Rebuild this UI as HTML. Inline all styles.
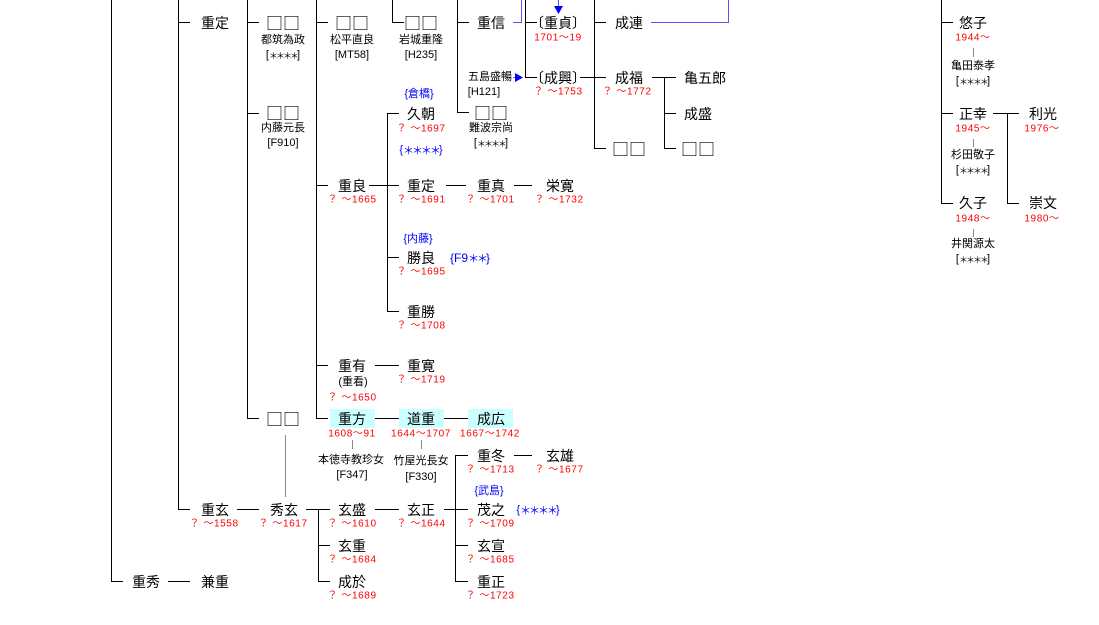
<!DOCTYPE html>
<html><head><meta charset="utf-8"><style>
html,body{margin:0;padding:0;background:#fff;width:1099px;height:625px;overflow:hidden}
svg{display:block}
text{font-family:"Liberation Sans","Noto Sans CJK JP",sans-serif;text-anchor:middle;dominant-baseline:central}
.n{font-size:14px;fill:#000}
.d{font-size:10px;fill:#f00;letter-spacing:0.6px}
.s{font-size:11px;fill:#000}
.b{font-size:11px;fill:#00f}
.q{font-family:"Noto Sans CJK JP",sans-serif;font-size:17px;fill:#000}
.a{font-family:"Noto Sans CJK JP",sans-serif;font-size:9px;letter-spacing:-2px}
</style></head><body>
<svg width="1099" height="625" viewBox="0 0 1099 625">
<rect x="330" y="409" width="45" height="19" fill="#ccffff"/>
<rect x="399" y="409" width="45" height="19" fill="#ccffff"/>
<rect x="468" y="409" width="45" height="19" fill="#ccffff"/>
<g stroke="#000" stroke-width="1" fill="none">
<path d="M111.5 0V581.5H123M178.5 0V509.5H190M247.5 0V418.5H259M316.5 0V418.5H328M387.5 113V311.5H399M392.5 0V22.5H404M457.5 0V112.5H469M525.5 0V77.5H537M594.5 0V148.5H606M664.5 77V148.5H676M941.5 0V203.5H953M1007.5 113V203.5H1019M318.5 509V581.5H330M455.5 455V581.5H468"/>
<path d="M178 22.5H190M247 22.5H259M316 22.5H328M457 22.5H469M525 22.5H537M594 22.5H606M941 22.5H953"/>
<path d="M247 113.5H259M387 113.5H399M664 113.5H676M941 113.5H953M993 113.5H1019"/>
<path d="M580 77.5H606M652 77.5H676"/>
<path d="M316 185.5H328M369 185.5H399M446 185.5H466M514 185.5H532"/>
<path d="M387 257.5H399M316 365.5H328M375 365.5H399"/>
<path d="M316 418.5H328M375 418.5H399M444 418.5H468"/>
<path d="M237 509.5H259M306 509.5H330M375 509.5H399M444 509.5H468M318 545.5H330M455 545.5H468M168 581.5H190M455 455.5H468M514 455.5H532"/>
</g>
<g stroke="#888" stroke-width="1">
<path d="M973.5 48V57M973.5 139V147M973.5 229V237M352.5 440V449M421.5 440V449M285.5 435V497"/>
</g>
<g stroke="#55f" stroke-width="1" fill="none">
<path d="M513 22.5H521.5V0M651 22.5H728.5V0M558.5 0V8M513 77.5H516"/>
</g>
<polygon points="554,6 563,6 558.5,14" fill="#00f"/>
<polygon points="515,73 515,82 523,77.5" fill="#00f"/>

<text class="n" x="215" y="23">重定</text>
<text class="q" x="283" y="22">□□</text><text class="s" x="283" y="40">都筑為政</text><text class="s" x="283" y="55">[<tspan class="a">＊＊＊＊</tspan>]</text>
<text class="q" x="352" y="22">□□</text><text class="s" x="352" y="40">松平直良</text><text class="s" x="352" y="55">[MT58]</text>
<text class="q" x="421" y="22">□□</text><text class="s" x="421" y="40">岩城重隆</text><text class="s" x="421" y="55">[H235]</text>
<text class="n" x="491" y="23">重信</text>
<text class="n" x="558" y="23">〔重貞〕</text><text class="d" x="558" y="38">1701～19</text>
<text class="n" x="629" y="23">成連</text>
<text class="s" x="490" y="77">五島盛暢</text><text class="s" x="484" y="92">[H121]</text>
<text class="n" x="558" y="78">〔成興〕</text><text class="d" x="558" y="92">？ ～1753</text>
<text class="n" x="629" y="78">成福</text><text class="d" x="627" y="92">？ ～1772</text>
<text class="n" x="705" y="78">亀五郎</text>
<text class="n" x="698" y="114">成盛</text>
<text class="q" x="629" y="148">□□</text><text class="q" x="698" y="148">□□</text>
<text class="q" x="283" y="112">□□</text><text class="s" x="283" y="128">内藤元長</text><text class="s" x="283" y="143">[F910]</text>
<text class="q" x="491" y="112">□□</text><text class="s" x="491" y="128">難波宗尚</text><text class="s" x="491" y="143">[<tspan class="a">＊＊＊＊</tspan>]</text>
<text class="b" x="419" y="94">{倉橋}</text>
<text class="n" x="421" y="114">久朝</text><text class="d" x="421" y="129">？ ～1697</text>
<text class="b" x="421" y="150">{<tspan class="a" style="font-size:11px">＊＊＊＊</tspan>}</text>
<text class="n" x="352" y="186">重良</text><text class="d" x="352" y="200">？ ～1665</text>
<text class="n" x="421" y="186">重定</text><text class="d" x="421" y="200">？ ～1691</text>
<text class="n" x="491" y="186">重真</text><text class="d" x="490" y="200">？ ～1701</text>
<text class="n" x="560" y="186">栄寛</text><text class="d" x="559" y="200">？ ～1732</text>
<text class="b" x="418" y="239">{内藤}</text>
<text class="n" x="421" y="258">勝良</text><text class="b" x="470" y="258" style="font-size:12px">{F9<tspan class="a" style="font-size:11px">＊＊</tspan>}</text><text class="d" x="421" y="272">？ ～1695</text>
<text class="n" x="421" y="312">重勝</text><text class="d" x="421" y="326">？ ～1708</text>
<text class="n" x="352" y="366">重有</text><text class="s" x="353" y="382">(重看)</text><text class="d" x="352" y="398">？ ～1650</text>
<text class="n" x="421" y="366">重寛</text><text class="d" x="421" y="380">？ ～1719</text>
<text class="q" x="283" y="418">□□</text>
<text class="n" x="352" y="419">重方</text><text class="d" x="352" y="434">1608～91</text>
<text class="n" x="421" y="419">道重</text><text class="d" x="421" y="434">1644～1707</text>
<text class="n" x="491" y="419">成広</text><text class="d" x="490" y="434">1667～1742</text>
<text class="s" x="351" y="460">本徳寺教珍女</text><text class="s" x="352" y="475">[F347]</text>
<text class="s" x="421" y="461">竹屋光長女</text><text class="s" x="421" y="477">[F330]</text>
<text class="n" x="491" y="456">重冬</text><text class="d" x="490" y="470">？ ～1713</text>
<text class="n" x="560" y="456">玄雄</text><text class="d" x="559" y="470">？ ～1677</text>
<text class="b" x="489" y="491">{武島}</text>
<text class="n" x="491" y="510">茂之</text><text class="b" x="538" y="510">{<tspan class="a" style="font-size:11px">＊＊＊＊</tspan>}</text><text class="d" x="490" y="524">？ ～1709</text>
<text class="n" x="491" y="546">玄宣</text><text class="d" x="490" y="560">？ ～1685</text>
<text class="n" x="491" y="582">重正</text><text class="d" x="490" y="596">？ ～1723</text>
<text class="n" x="215" y="510">重玄</text><text class="d" x="214" y="524">？ ～1558</text>
<text class="n" x="284" y="510">秀玄</text><text class="d" x="283" y="524">？ ～1617</text>
<text class="n" x="352" y="510">玄盛</text><text class="d" x="352" y="524">？ ～1610</text>
<text class="n" x="421" y="510">玄正</text><text class="d" x="421" y="524">？ ～1644</text>
<text class="n" x="352" y="546">玄重</text><text class="d" x="352" y="560">？ ～1684</text>
<text class="n" x="352" y="582">成於</text><text class="d" x="352" y="596">？ ～1689</text>
<text class="n" x="146" y="582">重秀</text><text class="n" x="215" y="582">兼重</text>
<text class="n" x="973" y="23">悠子</text><text class="d" x="973" y="38">1944～</text>
<text class="s" x="973" y="66">亀田泰孝</text><text class="s" x="973" y="81">[<tspan class="a">＊＊＊＊</tspan>]</text>
<text class="n" x="973" y="114">正幸</text><text class="d" x="973" y="129">1945～</text>
<text class="s" x="973" y="155">杉田敬子</text><text class="s" x="973" y="170">[<tspan class="a">＊＊＊＊</tspan>]</text>
<text class="n" x="973" y="203">久子</text><text class="d" x="973" y="219">1948～</text>
<text class="s" x="973" y="244">井関源太</text><text class="s" x="973" y="259">[<tspan class="a">＊＊＊＊</tspan>]</text>
<text class="n" x="1043" y="114">利光</text><text class="d" x="1042" y="129">1976～</text>
<text class="n" x="1043" y="203">崇文</text><text class="d" x="1042" y="219">1980～</text>
</svg>
</body></html>
